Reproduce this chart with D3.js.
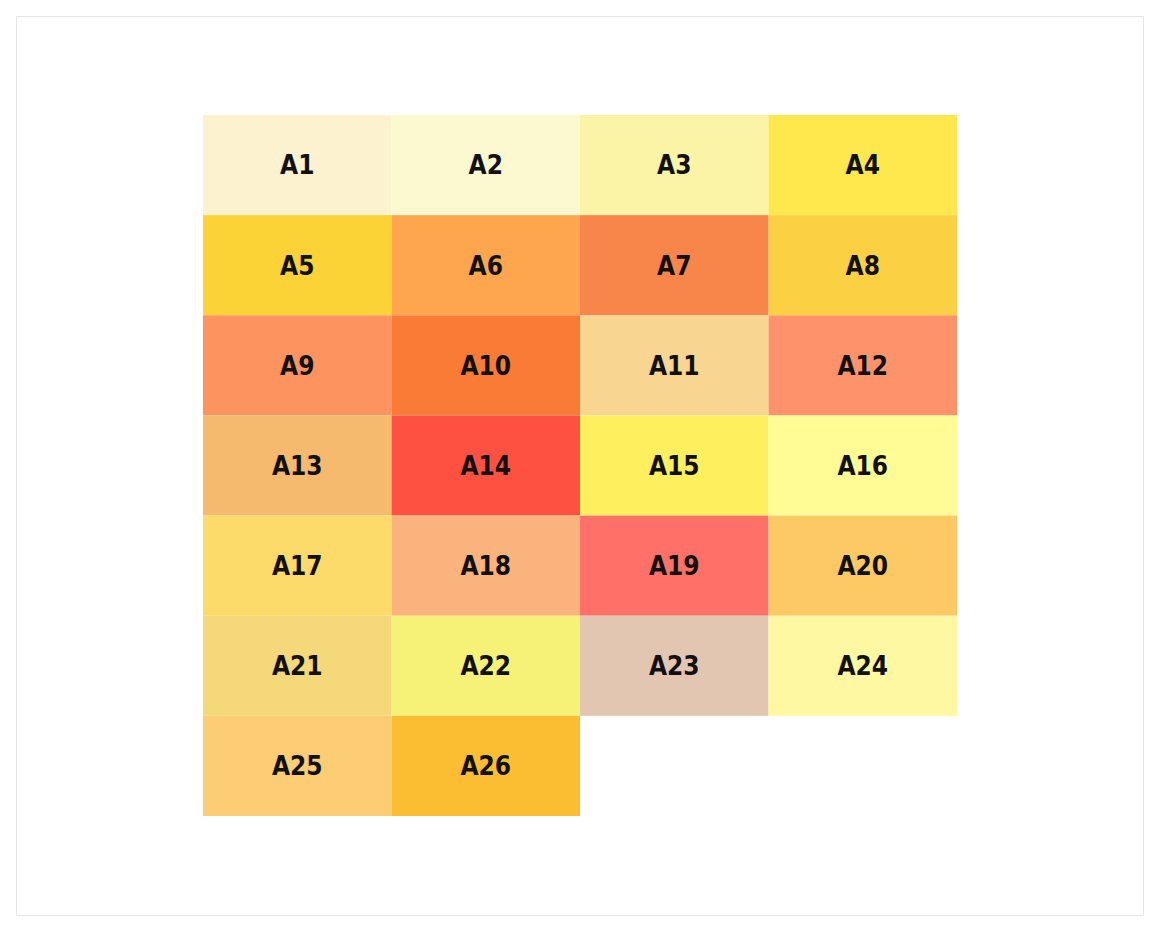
<!DOCTYPE html><html><head><meta charset="utf-8"><script src="https://cdn.jsdelivr.net/npm/d3@7"></script>
<style>body{margin:0;background:#fff}</style></head><body><svg id="c" width="1160" height="932"></svg>
<script>
const labels=["A1","A2","A3","A4","A5","A6","A7","A8","A9","A10","A11","A12","A13","A14","A15","A16","A17","A18","A19","A20","A21","A22","A23","A24","A25","A26"];
const colors=["#fcf2cf","#fcf8d0","#fbf4a6","#fee84d","#fbd336","#fda64e","#f8864a","#fcd043","#fd935f","#f97b36","#f9d592","#fe936b","#f6ba6e","#fe5141","#feef5f","#fffc96","#fddb6a","#fbb37e","#ff7068","#fdc964","#f4d87a","#f5f277","#e3c6b2","#fef8a2","#fccd75","#fbbd32"];
const cols=4,rows=7;
const svg=d3.select("#c");
svg.append("rect").attr("x",16.5).attr("y",16.5).attr("width",1127).attr("height",899).attr("fill","none").attr("stroke","#e6e6e6");
const x=d3.scaleBand().domain(d3.range(cols)).range([203,957]);
const y=d3.scaleBand().domain(d3.range(rows)).range([115,816]);
const g=svg.selectAll("g.cell").data(labels).enter().append("g");
g.append("rect").attr("x",(d,i)=>x(i%cols)).attr("y",(d,i)=>y(Math.floor(i/cols))).attr("width",x.bandwidth()).attr("height",y.bandwidth()).attr("fill",(d,i)=>colors[i]);
g.append("text").attr("x",(d,i)=>x(i%cols)+x.bandwidth()/2).attr("y",(d,i)=>y(Math.floor(i/cols))+y.bandwidth()/2).attr("dy","0.36em").attr("text-anchor","middle")
 .attr("font-family","DejaVu Sans Condensed, DejaVu Sans").attr("font-stretch","condensed").attr("font-weight","bold").attr("font-size",26).attr("fill","#111").text(d=>d);
</script></body></html>
